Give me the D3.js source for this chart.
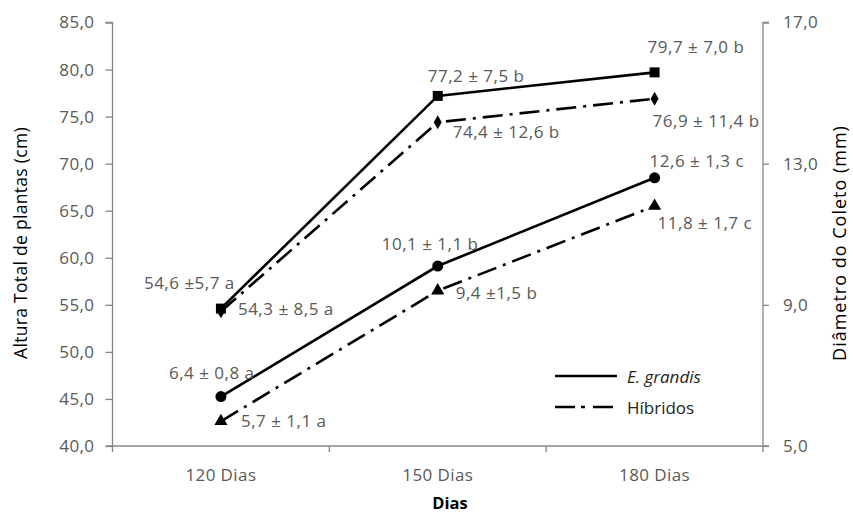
<!DOCTYPE html>
<html><head><meta charset="utf-8">
<script src="https://cdn.jsdelivr.net/npm/d3@7"></script>
<style>body{margin:0;background:#fff}svg{display:block}text{font-family:"Open Sans",sans-serif}</style>
</head><body><svg id="c" width="853" height="516"></svg>
<script>
const categories = ["120 Dias","150 Dias","180 Dias"];
const heightGrandis = [54.6, 77.2, 79.7];
const heightHibridos = [54.3, 74.4, 76.9];
const diamGrandis = [6.4, 10.1, 12.6];
const diamHibridos = [5.7, 9.4, 11.8];
const labelsHeightGrandis = ["54,6 ±5,7 a","77,2 ± 7,5 b","79,7 ± 7,0 b"];
const labelsHeightHibridos = ["54,3 ± 8,5 a","74,4 ± 12,6 b","76,9 ± 11,4 b"];
const labelsDiamGrandis = ["6,4 ± 0,8 a","10,1 ± 1,1 b","12,6 ± 1,3 c"];
const labelsDiamHibridos = ["5,7 ± 1,1 a","9,4 ±1,5 b","11,8 ± 1,7 c"];
const leftTicks = [40,45,50,55,60,65,70,75,80,85];
const rightTicks = [5,9,13,17];

const svg = d3.select("#c");
const L = 112.5, R = 763, T = 22.5, B = 446;
const x = d3.scaleBand().domain(categories).range([L, R]);
const yL = d3.scaleLinear().domain([40,85]).range([B, T]);
const yR = d3.scaleLinear().domain([5,17]).range([B, T]);
const fmt = d => d.toFixed(1).replace(".", ",");
const axisCol = "#868686", tickCol = "#595959";
const cx = c => x(c) + x.bandwidth()/2;

// axes
const gl = svg.append("g").attr("transform",`translate(${L},0)`).call(d3.axisLeft(yL).tickValues(leftTicks).tickFormat(fmt).tickSize(7).tickPadding(11));
const gr = svg.append("g").attr("transform",`translate(${R},0)`).call(d3.axisRight(yR).tickValues(rightTicks).tickFormat(fmt).tickSize(6).tickPadding(14));
const gb = svg.append("g").attr("transform",`translate(0,${B})`).call(d3.axisBottom(x).tickSize(0).tickPadding(23));
gb.selectAll("line.bt").data(d3.range(4)).enter().append("line").attr("class","bt")
  .attr("x1",i=>L+i*x.bandwidth()).attr("x2",i=>L+i*x.bandwidth()).attr("y1",0).attr("y2",6)
  .attr("stroke",axisCol).attr("stroke-width",1.3);
[gl,gr,gb].forEach(g=>{
  g.select(".domain").attr("stroke",axisCol).attr("stroke-width",1.3);
  g.selectAll(".tick line").attr("stroke",axisCol).attr("stroke-width",1.3);
  g.selectAll(".tick text").attr("fill",tickCol).style("font-size","17px").style("letter-spacing","0.4px").style("font-family","Open Sans");
});
gb.select(".domain").attr("d",`M${L},0H${R}`);
gl.select(".domain").attr("d",`M-7,${B}H0V${T}H-7`);
gr.select(".domain").attr("d",`M6,${B}H0V${T}H6`);

// lines
const dashDot = "20,7,3,7";
const series = [
  {vals: heightGrandis, y: yL, dash: null, marker: "square", labels: labelsHeightGrandis},
  {vals: heightHibridos, y: yL, dash: dashDot, marker: "diamond", labels: labelsHeightHibridos},
  {vals: diamGrandis, y: yR, dash: null, marker: "circle", labels: labelsDiamGrandis},
  {vals: diamHibridos, y: yR, dash: dashDot, marker: "triangle", labels: labelsDiamHibridos}
];
const symMap = {square:[d3.symbolSquare,100], diamond:[d3.symbolDiamond,55], circle:[d3.symbolCircle,95], triangle:[d3.symbolTriangle,75]};
series.forEach(s=>{
  const line = d3.line().x((d,i)=>cx(categories[i])).y(d=>s.y(d));
  svg.append("path").attr("d",line(s.vals)).attr("fill","none").attr("stroke","#000")
    .attr("stroke-width",2.6).attr("stroke-dasharray",s.dash);
  const [sym,size] = symMap[s.marker];
  svg.selectAll(null).data(s.vals).enter().append("path")
    .attr("d",d3.symbol().type(sym).size(size))
    .attr("transform",(d,i)=>`translate(${cx(categories[i])},${s.y(d)})`).attr("fill","#000");
});

// value labels (offsets relative to points)
const labelOffsets = [
  [[-77,-26],[-10,-20],[-7,-25]],
  [[17,-2],[15,10],[-2,22]],
  [[-52,-24],[-56,-22],[-5,-17]],
  [[20,0],[18,2],[3,17]]
];
series.forEach((s,si)=>{
  svg.selectAll(null).data(s.vals).enter().append("text")
    .attr("x",(d,i)=>cx(categories[i])+labelOffsets[si][i][0])
    .attr("y",(d,i)=>s.y(d)+labelOffsets[si][i][1])
    .attr("dy","0.35em").attr("fill",tickCol).style("font-size","17px").style("letter-spacing","0.5px")
    .text((d,i)=>s.labels[i]);
});

// axis titles
svg.append("text").attr("transform","translate(21,243) rotate(-90)").attr("text-anchor","middle")
  .attr("dy","0.35em").attr("fill","#000").style("font-size","17.5px").style("letter-spacing","0.3px").text("Altura Total de plantas (cm)");
svg.append("text").attr("transform","translate(840,243) rotate(-90)").attr("text-anchor","middle")
  .attr("dy","0.35em").attr("fill","#000").style("font-size","18px").style("letter-spacing","1px").text("Diâmetro do Coleto (mm)");
svg.append("text").attr("x",450).attr("y",503).attr("text-anchor","middle").attr("dy","0.35em")
  .attr("fill","#000").style("font-size","16.5px").style("font-weight","bold").text("Dias");

// legend
const legend = [{name:"E. grandis", dash:null, italic:true},{name:"Híbridos", dash:dashDot, italic:false}];
legend.forEach((l,i)=>{
  const yy = 376 + i*31;
  svg.append("line").attr("x1",555).attr("x2",617).attr("y1",yy).attr("y2",yy)
    .attr("stroke","#000").attr("stroke-width",2.6).attr("stroke-dasharray",l.dash ? "20,6,4,8" : null);
  svg.append("text").attr("x",627).attr("y",yy+1).attr("dy","0.35em").attr("fill","#222")
    .style("font-size","17px").style("font-style",l.italic?"italic":"normal").text(l.name);
});
</script></body></html>
